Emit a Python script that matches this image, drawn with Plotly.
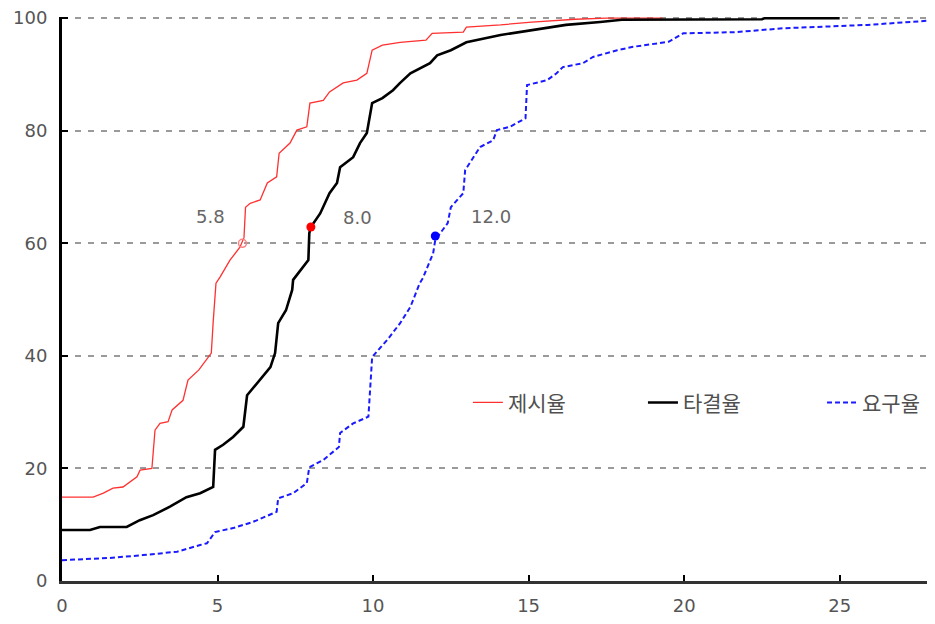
import plotly.graph_objects as go

# 제시율 (red)
red_x = [0, 1.0, 1.33, 1.64, 1.96, 2.19, 2.41, 2.51, 2.89, 2.99, 3.15, 3.41, 3.54, 3.89, 4.05, 4.4, 4.8, 4.86, 4.95,
         5.08, 5.4, 5.72, 5.85, 5.9, 6.05, 6.37, 6.6, 6.9, 6.98, 7.33, 7.55, 7.87, 7.97, 8.4, 8.6, 9.04, 9.48, 9.8,
         9.97, 10.3, 10.87, 11.7, 11.9, 12.9, 13.0, 14.1, 15.1, 16.5, 17.5, 19.3]
red_y = [14.9, 14.9, 15.6, 16.5, 16.7, 17.6, 18.5, 19.7, 20, 26.8, 28, 28.3, 30.4, 32.1, 35.7, 37.5, 40.5, 46, 52.9,
         54, 57, 59.3, 61, 66.4, 67.1, 67.7, 70.7, 71.8, 76, 77.8, 80.1, 80.7, 84.9, 85.4, 86.9, 88.5, 89, 90.2,
         94.3, 95.2, 95.7, 96.1, 97.3, 97.5, 98.4, 98.8, 99.3, 99.8, 100, 100]

# 타결율 (black)
black_x = [0, 0.9, 1.22, 2.08, 2.5, 2.93, 3.47, 4.0, 4.44, 4.86, 4.92, 5.18, 5.5, 5.83, 5.95, 6.37, 6.7, 6.85, 6.95,
           7.2, 7.4, 7.43, 7.75, 7.92, 7.95, 8.0, 8.3, 8.5, 8.6, 8.84, 8.94, 9.36, 9.58, 9.8, 9.97, 10.3, 10.64, 10.87,
           11.2, 11.83, 12.06, 12.5, 13.0, 14.1, 15.1, 16.2, 17.3, 18.0, 22.5, 22.6, 25.0]
black_y = [9.06, 9.06, 9.6, 9.6, 10.8, 11.7, 13.2, 14.9, 15.6, 16.7, 23.3, 24.2, 25.6, 27.4, 33, 35.7, 38, 40.5, 45.8,
           48.1, 51.7, 53.5, 55.8, 57, 61.8, 62.9, 65.3, 67.7, 68.9, 70.7, 73.5, 75.3, 77.8, 79.6, 84.9, 85.8, 87.2, 88.5,
           90.2, 92, 93.4, 94.3, 95.7, 97, 97.9, 98.8, 99.3, 99.7, 99.8, 100, 100]

# 요구율 (blue)
blue_x = [0, 1.54, 2.6, 3.7, 4.44, 4.66, 4.92, 5.5, 6.14, 6.9, 6.95, 7.43, 7.87, 7.95, 8.4, 8.9, 8.94, 9.36, 9.85,
          9.97, 10.45, 10.87, 11.2, 11.5, 11.6, 11.93, 12.0, 12.1, 12.4, 12.5, 12.9, 12.96, 13.44, 13.86, 13.98, 14.4,
          14.9, 14.95, 15.6, 15.9, 16.1, 16.75, 17.07, 17.85, 18.36, 19.5, 19.97, 21.6, 23.2, 25.9, 28]
blue_y = [3.7, 4.1, 4.6, 5.2, 6.4, 6.7, 8.7, 9.4, 10.5, 12.3, 14.7, 15.6, 17.4, 20.2, 21.5, 23.8, 26.3, 28, 29.2,
          39.8, 42.8, 45.8, 48.7, 52.9, 53.8, 58.2, 60.6, 61.3, 63.6, 66.4, 68.9, 73, 77.1, 78.3, 80.1, 80.7,
          82.2, 88.1, 89, 90.2, 91.3, 92, 93.1, 94.3, 94.9, 95.8, 97.3, 97.5, 98.2, 98.8, 99.6]

series_names = ["제시율", "타결율", "요구율"]
medians = [5.8, 8.0, 12.0]
median_y = [60, 62.9, 61.3]
median_labels = ["5.8", "8.0", "12.0"]
label_pos = [(4.76, 64.8), (9.5, 64.5), (13.8, 64.7)]

x_ticks = [0, 5, 10, 15, 20, 25]
y_ticks = [0, 20, 40, 60, 80, 100]

fig = go.Figure()
fig.add_trace(go.Scatter(x=red_x, y=red_y, mode="lines", name=series_names[0], legend="legend",
                         line=dict(color="#ff3030", width=1.3)))
fig.add_trace(go.Scatter(x=black_x, y=black_y, mode="lines", name=series_names[1], legend="legend2",
                         line=dict(color="#000000", width=2.6)))
fig.add_trace(go.Scatter(x=blue_x, y=blue_y, mode="lines", name=series_names[2], legend="legend3",
                         line=dict(color="#1a1aff", width=2, dash="5px,3px")))

# median markers
fig.add_trace(go.Scatter(x=[medians[0]], y=[median_y[0]], mode="markers", showlegend=False,
                         marker=dict(size=8, color="rgba(255,255,255,0)", line=dict(color="#ff8080", width=1.5))))
fig.add_trace(go.Scatter(x=[medians[1]], y=[median_y[1]], mode="markers", showlegend=False,
                         marker=dict(size=9, color="#ff0000")))
fig.add_trace(go.Scatter(x=[medians[2]], y=[median_y[2]], mode="markers", showlegend=False,
                         marker=dict(size=9, color="#0000ff")))

for (lx, ly), txt in zip(label_pos, median_labels):
    fig.add_annotation(x=lx, y=ly, text=txt, showarrow=False,
                       font=dict(family="DejaVu Sans", size=18, color="#666666"))

legend_font = dict(family="Noto Sans CJK KR", size=21, color="#505050")
leg_common = dict(orientation="h", yanchor="middle", xanchor="left", y=0.316,
                  bgcolor="rgba(0,0,0,0)", font=legend_font, itemwidth=30)

fig.update_layout(
    width=927, height=616,
    margin=dict(l=54, r=2, t=9, b=43, autoexpand=False),
    plot_bgcolor="white", paper_bgcolor="white",
    showlegend=True,
    legend=dict(x=0.466, **leg_common),
    legend2=dict(x=0.667, **leg_common),
    legend3=dict(x=0.8726, **leg_common),
)
fig.update_xaxes(range=[0, 28], tickvals=x_ticks, showgrid=False, zeroline=False, automargin=False,
                 showline=True, linecolor="#333333", linewidth=3,
                 ticks="inside", ticklen=6, tickcolor="#000000", tickwidth=2, ticklabelstandoff=6,
                 ticklabeloverflow="allow",
                 tickfont=dict(family="DejaVu Sans", size=18, color="#555555"))
fig.update_yaxes(range=[0, 100.2], tickvals=y_ticks, showgrid=True, gridcolor="#9a9a9a", gridwidth=2,
                 griddash="6px,7px", zeroline=False, automargin=False,
                 showline=True, linecolor="#000000", linewidth=3,
                 ticks="inside", ticklen=6, tickcolor="#000000", tickwidth=2, ticklabelstandoff=8,
                 ticklabeloverflow="allow",
                 tickfont=dict(family="DejaVu Sans", size=18, color="#555555"))

fig.write_html("out.html")
